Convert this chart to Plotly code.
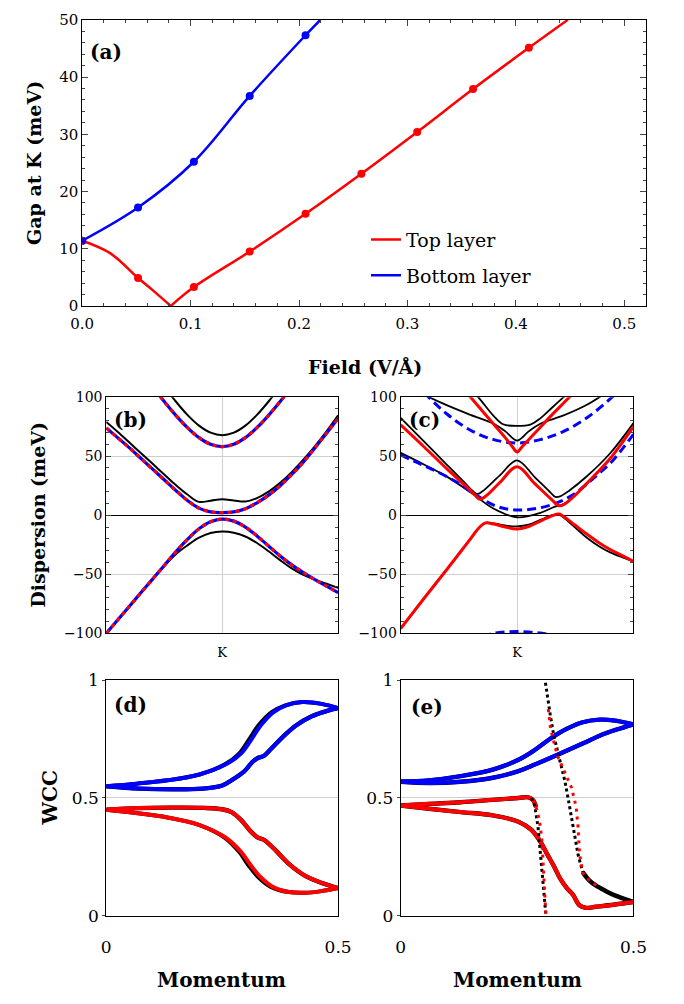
import plotly.graph_objects as go

W, H = 684, 1004
def fx(p): return p / W
def fy(p): return 1 - p / H

TICK = "DejaVu Serif, serif"
BOLD = "DejaVu Serif, serif"
RED, BLUE, BLACK, GRID = "#ff0000", "#0000ff", "#000000", "#cfcfcf"

# ---------------- Panel (a): gap at K vs field ----------------
field_top_pts = [0.0, 0.0515, 0.103, 0.1545, 0.206, 0.2575, 0.309, 0.3605, 0.412]
gap_top_pts = [11.4, 4.9, 3.3, 9.5, 16.1, 23.1, 30.4, 37.9, 45.1]
field_bot_pts = [0.0, 0.0515, 0.103, 0.1545, 0.206]
gap_bot_pts = [11.4, 17.2, 25.2, 36.7, 47.3]
# smooth curves (top layer has a gap closing at ~0.082)
field_top_line1 = [0.0, 0.026, 0.0515, 0.066, 0.0817]
gap_top_line1 = [11.4, 9.2, 4.9, 2.6, 0.0]
field_top_line2 = [0.0817, 0.103, 0.1545, 0.206, 0.2575, 0.309, 0.3605, 0.412, 0.448]
gap_top_line2 = [0.0, 3.3, 9.5, 16.1, 23.1, 30.4, 37.9, 45.1, 50.0]
field_bot_line = [0.0, 0.0515, 0.103, 0.1545, 0.206, 0.2197]
gap_bot_line = [11.4, 17.2, 25.2, 36.7, 47.3, 50.0]

# ---------------- Panel (b): dispersion ----------------
kx = [-1.0, -0.9, -0.8, -0.7, -0.6, -0.5, -0.4, -0.3, -0.2, -0.1, 0.0,
      0.1, 0.2, 0.3, 0.4, 0.5, 0.6, 0.7, 0.8, 0.9, 1.0]
b_cb1_black = [79, 70.5, 61.5, 52.5, 43.5, 34.5, 25.5, 17.5, 11.3, 12.3, 13.5,
               12.5, 11.6, 14.5, 20, 27.5, 36.5, 47, 58.5, 71, 84.5]
b_cb1_dash = [74, 65.5, 57, 48, 39, 30, 21, 12.5, 6, 2.8, 2.2,
              2.8, 5.5, 10.5, 17, 25, 34.5, 45, 57, 69.5, 82]
b_vb_dash = [-100, -88.5, -77, -65.5, -54, -42.5, -31, -20.5, -11.5, -5.5, -3.3,
             -5, -10, -17.5, -26, -34.5, -42, -48.5, -54.5, -60, -65.5]
b_vb_black = [-100, -88.5, -77, -65.5, -54.5, -43, -33, -25.5, -19, -15, -13.8,
              -14.8, -18, -23.5, -30.5, -38, -45, -50.5, -54.5, -58, -61.5]
kx_b2 = [-0.7, -0.6, -0.5, -0.4, -0.3, -0.2, -0.1, 0.0, 0.1, 0.2, 0.3, 0.4, 0.5, 0.6, 0.7]
b_cb2_black = [138, 123, 109.1, 96.3, 85.0, 75.9, 69.9, 67.8, 69.9, 75.9, 85.0, 96.3, 109.1, 123, 138]
b_cb2_dash = [122, 109, 96.3, 84.6, 74.2, 65.7, 60.1, 58.1, 60.1, 65.7, 74.2, 84.6, 96.3, 109, 122]

# ---------------- Panel (c): dispersion ----------------
c_k_mid1 = [-1, -0.8, -0.6, -0.45, -0.38, -0.34, -0.3, -0.15, 0, 0.15, 0.29, 0.33, 0.37, 0.45, 0.6, 0.8, 1.0]
c_black_mid1 = [82.5, 62.5, 42.5, 27.5, 20.5, 18, 20, 33.5, 46.5, 32.5, 19, 15.5, 16, 21, 33, 52.5, 78]
c_k_red_mid = [-1, -0.8, -0.6, -0.45, -0.36, -0.32, -0.27, -0.15, 0, 0.15, 0.3, 0.36, 0.41, 0.5, 0.6, 0.8, 1.0]
c_red_mid = [76.5, 58, 39, 25.5, 17, 13.5, 16, 27.5, 41, 27, 13, 8, 9.5, 17, 27, 48, 75]
c_k_mid2 = [-1, -0.8, -0.6, -0.4, -0.2, 0, 0.2, 0.32, 0.4, 0.5, 0.6, 0.8, 1.0]
c_black_mid2 = [52.8, 43, 32.5, 19.5, 5.5, -1.7, 2, 7, 9.5, 17, 27, 48, 75]
c_blue_mid = [51, 46.5, 42, 37.5, 32.5, 27, 20, 14, 8.5, 5.5, 4.4,
              4.8, 6.3, 9, 13, 18.5, 26.5, 35, 44, 55.5, 68.5]
c_k_red_top = [-0.5, -0.4, -0.3, -0.2, -0.1, -0.04, 0, 0.04, 0.1, 0.2, 0.3, 0.4, 0.5]
c_red_top = [112, 100, 88.5, 77, 65.5, 58, 53.5, 57.5, 64, 74.5, 85, 95, 105]
c_k_top1 = [-0.4, -0.3, -0.2, -0.12, 0, 0.12, 0.2, 0.3, 0.4, 0.5]
c_black_top1 = [108, 96, 84, 77, 75.6, 77, 82, 91, 100, 109]
c_k_top2 = [-0.8, -0.6, -0.4, -0.2, -0.1, 0, 0.1, 0.2, 0.4, 0.6, 0.8]
c_black_top2 = [102, 93, 85, 77.5, 71, 63.2, 71, 77.5, 84.5, 93.5, 106]
c_k_blue_top = [-0.8, -0.6, -0.4, -0.2, 0, 0.2, 0.4, 0.6, 0.8, 0.9]
c_blue_top = [104, 85.5, 72, 64, 61.2, 64, 71, 82.5, 98.5, 108]
c_k_vb = [-1, -0.8, -0.6, -0.4, -0.33, -0.27, -0.2, -0.1, 0, 0.1, 0.2, 0.3, 0.36, 0.4, 0.5, 0.6, 0.7, 0.8, 0.9, 1.0]
c_red_vb = [-96, -70.5, -45.5, -20, -11, -6.5, -7.5, -10, -11.6, -9.5, -5, -0.5, 1, -1, -8.5, -16, -23, -29, -34, -39]
c_black_vb = [-96, -70.5, -45.5, -20, -11, -6.5, -7, -8.7, -9.4, -8, -4, 0, 0.5, -2, -10.5, -19, -26, -31.5, -35.5, -39]
c_k_blue_bot = [-0.3, -0.2, -0.1, 0, 0.1, 0.2, 0.3, 0.4]
c_blue_bot = [-103, -100, -98.8, -98.5, -98.8, -99.8, -101.5, -104]
c_k_black_bot = [-0.3, -0.15, 0, 0.15, 0.3, 0.4]
c_black_bot = [-104, -101, -100.3, -100.5, -101.5, -103]

# ---------------- Panel (d): WCC ----------------
d_k_blue_out = [0, 0.066, 0.132, 0.201, 0.257, 0.291, 0.312, 0.333, 0.36, 0.388, 0.423, 0.464, 0.5]
d_w_blue_out = [0.55, 0.561, 0.575, 0.6, 0.642, 0.69, 0.746, 0.808, 0.864, 0.894, 0.908, 0.9, 0.882]
d_k_black_bo = [0, 0.066, 0.132, 0.201, 0.255, 0.287, 0.307, 0.328, 0.356, 0.386, 0.423, 0.464, 0.5]
d_k_blue_in = [0, 0.07, 0.14, 0.21, 0.25, 0.27, 0.298, 0.315, 0.326, 0.34, 0.353, 0.381, 0.409, 0.443, 0.478, 0.5]
d_w_blue_in = [0.55, 0.54, 0.537, 0.54, 0.553, 0.575, 0.614, 0.653, 0.669, 0.679, 0.704, 0.76, 0.808, 0.847, 0.871, 0.882]
d_k_red_in = [0, 0.07, 0.14, 0.21, 0.25, 0.27, 0.291, 0.312, 0.326, 0.34, 0.353, 0.367, 0.395, 0.429, 0.464, 0.5]
d_w_red_in = [0.45, 0.457, 0.459, 0.458, 0.452, 0.44, 0.406, 0.357, 0.333, 0.322, 0.301, 0.274, 0.218, 0.169, 0.139, 0.117]
d_k_red_out = [0, 0.063, 0.132, 0.201, 0.257, 0.291, 0.312, 0.333, 0.36, 0.395, 0.429, 0.464, 0.5]
d_w_red_out = [0.45, 0.436, 0.417, 0.385, 0.332, 0.27, 0.213, 0.163, 0.121, 0.1, 0.097, 0.104, 0.117]
d_k_black_ro = [0, 0.063, 0.132, 0.201, 0.255, 0.287, 0.307, 0.328, 0.356, 0.393, 0.429, 0.464, 0.5]

# ---------------- Panel (e): WCC ----------------
e_k_blue_out = [0, 0.061, 0.129, 0.198, 0.253, 0.288, 0.322, 0.357, 0.391, 0.426, 0.46, 0.5]
e_w_blue_out = [0.569, 0.575, 0.593, 0.621, 0.6625, 0.704, 0.753, 0.794, 0.822, 0.833, 0.829, 0.8125]
e_k_blue_in = [0, 0.061, 0.129, 0.198, 0.253, 0.288, 0.336, 0.391, 0.439, 0.474, 0.5]
e_w_blue_in = [0.569, 0.564, 0.569, 0.586, 0.614, 0.642, 0.683, 0.732, 0.774, 0.797, 0.8125]
e_k_red_up = [0, 0.061, 0.129, 0.198, 0.253, 0.274, 0.284, 0.291]
e_w_red_up = [0.468, 0.475, 0.482, 0.492, 0.5, 0.503, 0.492, 0.461]
e_k_red_low = [0, 0.061, 0.129, 0.198, 0.253, 0.281, 0.302, 0.315, 0.329, 0.343, 0.357, 0.37, 0.384, 0.398, 0.419, 0.46, 0.5]
e_w_red_low = [0.468, 0.454, 0.44, 0.426, 0.399, 0.364, 0.308, 0.26, 0.211, 0.156, 0.117, 0.089, 0.044, 0.033, 0.0375, 0.047, 0.058]
e_k_black_right = [0.391, 0.405, 0.419, 0.44, 0.46, 0.48, 0.5]
e_w_black_right = [0.185, 0.15, 0.128, 0.105, 0.086, 0.071, 0.058]
e_k_black_A = [0.281, 0.288, 0.295, 0.302, 0.307, 0.312]
e_w_black_A = [0.5, 0.468, 0.378, 0.239, 0.114, 0.0]
e_k_red_A = [0.291, 0.298, 0.303, 0.306, 0.309, 0.312]
e_w_red_A = [0.461, 0.406, 0.33, 0.2, 0.1, 0.0]
e_k_black_B = [0.311, 0.316, 0.322, 0.329, 0.337, 0.345, 0.353, 0.36, 0.367, 0.374, 0.381, 0.391]
e_w_black_B = [0.99, 0.92, 0.845, 0.765, 0.7, 0.63, 0.57, 0.495, 0.42, 0.34, 0.26, 0.185]
e_k_red_B = [0.317, 0.322, 0.336, 0.35, 0.358, 0.367, 0.377, 0.381, 0.384, 0.391, 0.405, 0.42]
e_w_red_B = [0.878, 0.795, 0.683, 0.621, 0.586, 0.544, 0.461, 0.378, 0.267, 0.183, 0.15, 0.128]

fig = go.Figure()

def line(x, y, color, width, xa, ya, dash=None, shape="spline", name=None, legend=False):
    fig.add_trace(go.Scatter(
        x=x, y=y, mode="lines", xaxis=xa, yaxis=ya, name=name, showlegend=legend,
        legendgroup=name if legend else None,
        line=dict(color=color, width=width, dash=dash, shape=shape, smoothing=1.0),
        hoverinfo="skip"))

# Panel (a)
line(field_top_line1, gap_top_line1, RED, 2.5, "x", "y", name="Top layer", legend=True)
line(field_top_line2, gap_top_line2, RED, 2.5, "x", "y")
line(field_bot_line, gap_bot_line, BLUE, 2.5, "x", "y", name="Bottom layer", legend=True)
fig.add_trace(go.Scatter(x=field_top_pts, y=gap_top_pts, mode="markers", xaxis="x", yaxis="y",
                         marker=dict(color=RED, size=8), showlegend=False, hoverinfo="skip"))
fig.add_trace(go.Scatter(x=field_bot_pts, y=gap_bot_pts, mode="markers", xaxis="x", yaxis="y",
                         marker=dict(color=BLUE, size=8), showlegend=False, hoverinfo="skip"))

# Panel (b)
for yv in (b_cb1_black, b_vb_black):
    line(kx, yv, BLACK, 2, "x2", "y2")
line(kx_b2, b_cb2_black, BLACK, 2, "x2", "y2")
for xv, yv in ((kx, b_cb1_dash), (kx, b_vb_dash), (kx_b2, b_cb2_dash)):
    line(xv, yv, BLUE, 3.2, "x2", "y2")
    line(xv, yv, RED, 3.2, "x2", "y2", dash="4px,4px")

# Panel (c)
line(c_k_mid1, c_black_mid1, BLACK, 1.8, "x3", "y3")
line(c_k_mid2, c_black_mid2, BLACK, 1.8, "x3", "y3")
line(c_k_top1, c_black_top1, BLACK, 1.8, "x3", "y3")
line(c_k_top2, c_black_top2, BLACK, 1.8, "x3", "y3")
line(c_k_vb, c_black_vb, BLACK, 1.8, "x3", "y3")
line(c_k_black_bot, c_black_bot, BLACK, 1.8, "x3", "y3")
line(kx, c_blue_mid, BLUE, 3, "x3", "y3", dash="9px,5px")
line(c_k_blue_top, c_blue_top, BLUE, 3, "x3", "y3", dash="9px,5px")
line(c_k_blue_bot, c_blue_bot, BLUE, 3, "x3", "y3", dash="9px,5px")
line(c_k_red_mid, c_red_mid, RED, 3, "x3", "y3")
line(c_k_red_top, c_red_top, RED, 3, "x3", "y3")
line(c_k_vb, c_red_vb, RED, 3, "x3", "y3")

# Panel (d)
line(d_k_black_bo, d_w_blue_out, BLACK, 4.0, "x4", "y4")
line(d_k_blue_in, d_w_blue_in, BLACK, 4.4, "x4", "y4")
line(d_k_black_ro, d_w_red_out, BLACK, 4.0, "x4", "y4")
line(d_k_red_in, d_w_red_in, BLACK, 4.4, "x4", "y4")
line(d_k_blue_out, d_w_blue_out, BLUE, 4, "x4", "y4")
line(d_k_blue_in, d_w_blue_in, BLUE, 4, "x4", "y4")
line(d_k_red_out, d_w_red_out, RED, 4, "x4", "y4")
line(d_k_red_in, d_w_red_in, RED, 4, "x4", "y4")

# Panel (e)
for xv, yv in ((e_k_blue_out, e_w_blue_out), (e_k_blue_in, e_w_blue_in),
               (e_k_red_up, e_w_red_up), (e_k_red_low, e_w_red_low)):
    line(xv, yv, BLACK, 4.4, "x5", "y5")
line(e_k_black_right, e_w_black_right, BLACK, 4.5, "x5", "y5")
line(e_k_blue_out, e_w_blue_out, BLUE, 4, "x5", "y5")
line(e_k_blue_in, e_w_blue_in, BLUE, 4, "x5", "y5")
line(e_k_red_up, e_w_red_up, RED, 4, "x5", "y5")
line(e_k_red_low, e_w_red_low, RED, 4, "x5", "y5")
line(e_k_black_A, e_w_black_A, BLACK, 3, "x5", "y5", dash="3px,3px", shape="linear")
line(e_k_black_B, e_w_black_B, BLACK, 3, "x5", "y5", dash="3px,3px", shape="linear")
line(e_k_red_A, e_w_red_A, RED, 3, "x5", "y5", dash="3px,5px", shape="linear")
line(e_k_red_B, e_w_red_B, RED, 3, "x5", "y5", dash="3px,5px", shape="linear")

frame = dict(showline=True, linecolor=BLACK, linewidth=1, zeroline=False)

layout = dict(
    width=W, height=H, margin=dict(l=0, r=0, t=0, b=0),
    paper_bgcolor="white", plot_bgcolor="white",
    font=dict(family=TICK, color=BLACK),
    showlegend=True,
    legend=dict(x=fx(368), y=fy(215), xanchor="left", yanchor="top",
                font=dict(family=TICK, size=19, color=BLACK),
                bgcolor="rgba(0,0,0,0)", tracegroupgap=8),
    xaxis=dict(domain=[fx(73), fx(659)], anchor="y", range=[0, 0.52], dtick=0.1, tick0=0,
               tickformat=".1f", ticks="inside", ticklen=6, mirror="allticks",
               minor=dict(dtick=0.02, ticks="inside", ticklen=3),
               showgrid=False, tickfont=dict(family=TICK, size=15, color=BLACK),
               ticklabelstandoff=4, **frame),
    yaxis=dict(domain=[fy(302), fy(10)], anchor="x", range=[0, 50], dtick=10,
               ticks="inside", ticklen=6, mirror="allticks",
               minor=dict(dtick=2, ticks="inside", ticklen=3),
               showgrid=False, tickfont=dict(family=TICK, size=15, color=BLACK), **frame),
)
for i, (x0, x1) in ((2, (98, 339)), (3, (404, 646))):
    layout[f"xaxis{i}"] = dict(domain=[fx(x0), fx(x1)], anchor=f"y{i}", range=[-1, 1],
                               tickvals=[0], ticktext=["K"], ticks="", showgrid=True,
                               gridcolor=GRID, gridwidth=1, mirror=True,
                               tickfont=dict(family=TICK, size=13, color=BLACK),
                               ticklabelstandoff=7, **frame)
    layout[f"yaxis{i}"] = dict(domain=[fy(636), fy(395)], anchor=f"x{i}", range=[-100, 100],
                               tickvals=[-100, -50, 0, 50, 100], ticks="inside", ticklen=5,
                               mirror="allticks", showgrid=True, gridcolor=GRID, gridwidth=1,
                               minor=dict(dtick=10, ticks="inside", ticklen=3, showgrid=False),
                               tickfont=dict(family=TICK, size=14, color=BLACK),
                               showline=True, linecolor=BLACK, linewidth=1,
                               zeroline=True, zerolinecolor=BLACK, zerolinewidth=1)
for i, (x0, x1) in ((4, (98, 339)), (5, (404, 646))):
    layout[f"xaxis{i}"] = dict(domain=[fx(x0), fx(x1)], anchor=f"y{i}", range=[0, 0.5],
                               tickvals=[0, 0.5], ticktext=["0", "0.5"], ticks="",
                               showgrid=False, mirror=True,
                               tickfont=dict(family=TICK, size=17, color=BLACK),
                               ticklabelstandoff=16, **frame)
    layout[f"yaxis{i}"] = dict(domain=[fy(924), fy(684)], anchor=f"x{i}", range=[0, 1],
                               tickvals=[0, 0.5, 1], ticktext=["0", "0.5", "1"],
                               ticks="outside", ticklen=3, mirror=True,
                               showgrid=True, gridcolor=GRID, gridwidth=1,
                               tickfont=dict(family=TICK, size=17, color=BLACK), **frame)
fig.update_layout(**layout)

def ann(text, x, y, size, angle=0, family=BOLD):
    fig.add_annotation(text=text, x=fx(x), y=fy(y), xref="paper", yref="paper",
                       showarrow=False, textangle=angle, xanchor="center", yanchor="middle",
                       font=dict(family=family, size=size, color=BLACK))

ann("<b>Gap at K (meV)</b>", 23, 156, 19, -90)
ann("<b>Field (V/Å)</b>", 367, 364, 19)
ann("<b>Dispersion (meV)</b>", 27, 515, 19, -90)
ann("<b>WCC</b>", 40, 804, 20, -90)
ann("<b>Momentum</b>", 218, 990, 20)
ann("<b>Momentum</b>", 525, 990, 20)
ann("<b>(a)</b>", 98, 43, 20)
ann("<b>(b)</b>", 123, 418, 20)
ann("<b>(c)</b>", 429, 418, 20)
ann("<b>(d)</b>", 123, 709, 20)
ann("<b>(e)</b>", 431, 711, 20)

fig.write_html("out.html")
